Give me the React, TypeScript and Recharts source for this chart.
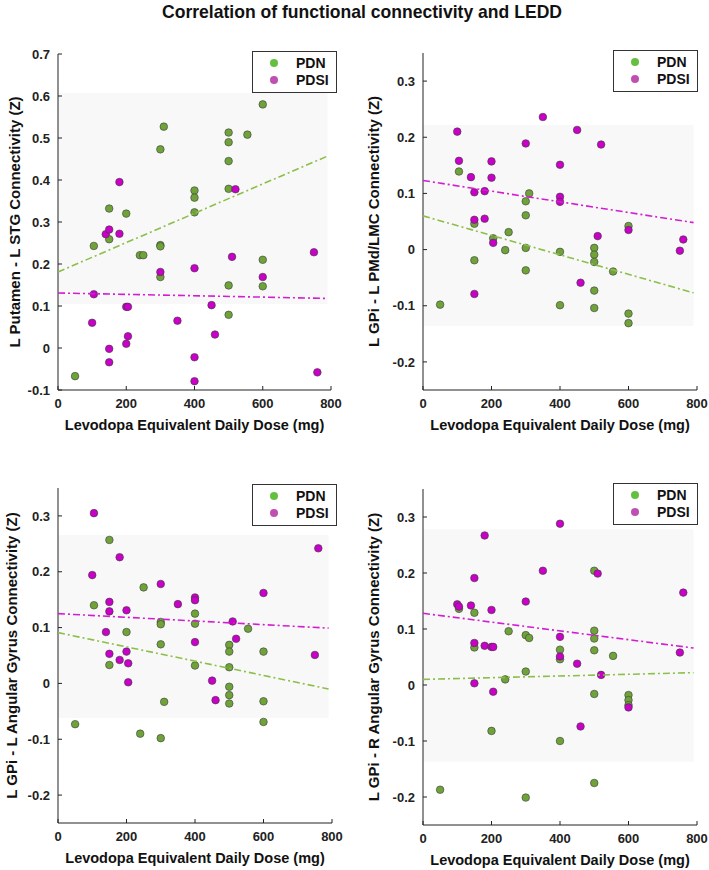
import React from "react";
import { ScatterChart, Scatter, XAxis, YAxis, ReferenceArea, Legend, Label } from "recharts";

type Pt = [number, number];

const FONT = '"Liberation Sans", Arial, sans-serif';
const GREEN = "#6fa33a";
const MAGENTA = "#c800c8";
const GREEN_FIT = "#8cbf4a";
const MAGENTA_FIT = "#d21ed2";

const doseTicks = [0, 200, 400, 600, 800];
const putamenTicks = [-0.1, 0, 0.1, 0.2, 0.3, 0.4, 0.5, 0.6, 0.7];
const gpiTicks = [-0.2, -0.1, 0, 0.1, 0.2, 0.3];

// L Putamen - L STG
const putamenPdn: Pt[] = [
  [600, 0.58], [310, 0.527], [300, 0.473], [500, 0.513], [500, 0.49], [555, 0.508],
  [500, 0.445], [500, 0.379], [400, 0.375], [400, 0.358], [400, 0.323], [150, 0.332],
  [200, 0.32], [105, 0.243], [150, 0.259], [240, 0.221], [250, 0.221], [300, 0.245],
  [300, 0.242], [300, 0.169], [600, 0.21], [500, 0.149], [600, 0.147], [500, 0.079],
  [50, -0.067],
];
const putamenPdsi: Pt[] = [
  [180, 0.395], [520, 0.378], [140, 0.271], [150, 0.282], [180, 0.272], [300, 0.181],
  [400, 0.19], [510, 0.217], [750, 0.228], [600, 0.169], [105, 0.128], [200, 0.098],
  [205, 0.098], [100, 0.06], [350, 0.065], [450, 0.102], [460, 0.032], [205, 0.028],
  [200, 0.01], [150, -0.002], [150, -0.034], [400, -0.022], [400, -0.079], [760, -0.058],
];
const putamenPdnFit: Pt[] = [[0, 0.181], [790, 0.457]];
const putamenPdsiFit: Pt[] = [[0, 0.131], [790, 0.118]];

// L GPi - L PMd/LMC
const pmdPdn: Pt[] = [
  [105, 0.139], [310, 0.1], [300, 0.086], [300, 0.061], [150, 0.046], [205, 0.02],
  [250, 0.031], [240, -0.001], [300, 0.003], [300, -0.037], [150, -0.019], [400, -0.004],
  [500, 0.003], [500, -0.009], [500, -0.022], [500, -0.073], [500, -0.104], [555, -0.039],
  [600, 0.042], [600, -0.114], [600, -0.131], [400, -0.099], [50, -0.098],
];
const pmdPdsi: Pt[] = [
  [350, 0.236], [100, 0.21], [450, 0.213], [300, 0.189], [520, 0.187], [105, 0.158],
  [200, 0.157], [400, 0.151], [140, 0.129], [200, 0.128], [150, 0.102], [180, 0.104],
  [400, 0.094], [400, 0.085], [150, 0.053], [180, 0.055], [205, 0.012], [510, 0.024],
  [600, 0.035], [750, -0.002], [760, 0.018], [460, -0.059], [150, -0.079],
];
const pmdPdnFit: Pt[] = [[0, 0.06], [790, -0.077]];
const pmdPdsiFit: Pt[] = [[0, 0.123], [790, 0.048]];

// L GPi - L Angular Gyrus
const lagPdn: Pt[] = [
  [150, 0.257], [250, 0.172], [105, 0.14], [400, 0.125], [300, 0.11], [300, 0.106],
  [400, 0.107], [555, 0.098], [200, 0.092], [150, 0.033], [300, 0.07], [400, 0.032],
  [310, -0.033], [500, 0.069], [500, 0.057], [500, 0.029], [500, -0.006], [500, -0.021],
  [500, -0.036], [600, 0.057], [600, -0.032], [600, -0.069], [50, -0.073], [240, -0.09],
  [300, -0.098],
];
const lagPdsi: Pt[] = [
  [105, 0.305], [180, 0.226], [100, 0.194], [300, 0.178], [150, 0.146], [150, 0.129],
  [200, 0.131], [350, 0.142], [400, 0.154], [400, 0.149], [600, 0.162], [760, 0.242],
  [510, 0.111], [140, 0.092], [150, 0.053], [180, 0.042], [200, 0.057], [205, 0.036],
  [205, 0.002], [400, 0.074], [520, 0.08], [450, 0.005], [460, -0.03], [750, 0.051],
];
const lagPdnFit: Pt[] = [[0, 0.091], [790, -0.01]];
const lagPdsiFit: Pt[] = [[0, 0.125], [790, 0.099]];

// L GPi - R Angular Gyrus
const ragPdn: Pt[] = [
  [500, 0.204], [105, 0.136], [150, 0.129], [250, 0.096], [500, 0.097], [150, 0.067],
  [300, 0.089], [310, 0.084], [400, 0.063], [400, 0.046], [500, 0.083], [500, 0.062],
  [555, 0.052], [300, 0.024], [240, 0.01], [500, -0.016], [600, -0.018], [600, -0.027],
  [600, -0.036], [200, -0.082], [400, -0.1], [500, -0.175], [50, -0.187], [300, -0.201],
];
const ragPdsi: Pt[] = [
  [400, 0.288], [180, 0.267], [350, 0.204], [510, 0.199], [150, 0.191], [760, 0.165],
  [300, 0.149], [100, 0.144], [105, 0.14], [140, 0.142], [200, 0.134], [150, 0.075],
  [180, 0.07], [200, 0.068], [205, 0.068], [400, 0.086], [400, 0.051], [450, 0.038],
  [520, 0.018], [150, 0.003], [205, -0.012], [460, -0.074], [600, -0.04], [750, 0.058],
];
const ragPdnFit: Pt[] = [[0, 0.01], [790, 0.022]];
const ragPdsiFit: Pt[] = [[0, 0.128], [790, 0.066]];

const toRows = (pts: Pt[]) => pts.map(([dose, z]) => ({ dose, z }));

const dot = (fill: string) => (p: any) => (
  <circle cx={p.cx} cy={p.cy} r={3.8} fill={fill} stroke="#3a3a3a" strokeWidth={0.6} />
);

const legendColors: Record<string, string> = { PDN: "#66c040", PDSI: "#c050b0" };

const renderLegend = (props: any) => {
  const items = (props.payload || []).filter((e: any) => e.type !== "none");
  return (
    <div style={{ width: 85, height: 42, boxSizing: "border-box", border: "1.3px solid #333", background: "#fff" }}>
      {items.map((e: any) => (
        <div key={e.value} style={{ height: 17.5, display: "flex", alignItems: "center", marginTop: e.value === "PDN" ? 2 : 0 }}>
          <span style={{ width: 8, height: 8, borderRadius: 4, background: legendColors[e.value], marginLeft: 17, marginRight: 18 }} />
          <span style={{ fontFamily: FONT, fontWeight: 700, fontSize: 14, color: "#111" }}>{e.value}</span>
        </div>
      ))}
    </div>
  );
};

type PanelProps = {
  left: number;
  top: number;
  width: number;
  height: number;
  marginTop: number;
  marginRight: number;
  marginBottom: number;
  yAxisWidth: number;
  yLabelX: number;
  yLabel: string;
  yDomain: [number, number];
  yTicks: number[];
  shade: [number, number];
  pdn: Pt[];
  pdsi: Pt[];
  pdnFit: Pt[];
  pdsiFit: Pt[];
  legendLeft: number;
  legendTop: number;
};

function Panel(p: PanelProps) {
  const tickStyle = { fontSize: 13, fontWeight: 700, fill: "#222", fontFamily: FONT };
  return (
    <div style={{ position: "absolute", left: p.left, top: p.top }}>
      <ScatterChart width={p.width} height={p.height} margin={{ top: p.marginTop, right: p.marginRight, bottom: p.marginBottom, left: 0 }}>
        <ReferenceArea x1={0} x2={790} y1={p.shade[0]} y2={p.shade[1]} fill="#f8f8f8" fillOpacity={1} stroke="none" />
        <XAxis
          dataKey="dose"
          type="number"
          domain={[0, 800]}
          ticks={doseTicks}
          height={40}
          tickSize={-4}
          tickMargin={13}
          tick={tickStyle}
          axisLine={{ stroke: "#222" }}
          tickLine={{ stroke: "#222" }}
        >
          <Label
            content={(lp: any) => {
              const vb = lp.viewBox;
              return (
                <text x={vb.x + vb.width / 2} y={vb.y + 35} textAnchor="middle" dominantBaseline="central" fontFamily={FONT} fontWeight={700} fontSize={14.5} fill="#111">
                  Levodopa Equivalent Daily Dose (mg)
                </text>
              );
            }}
          />
        </XAxis>
        <YAxis
          dataKey="z"
          type="number"
          domain={p.yDomain}
          ticks={p.yTicks}
          width={p.yAxisWidth}
          tickSize={-4}
          tickMargin={12}
          tick={tickStyle}
          tickFormatter={(v: number) => String(v)}
          axisLine={{ stroke: "#222" }}
          tickLine={{ stroke: "#222" }}
        >
          <Label
            content={(lp: any) => {
              const vb = lp.viewBox;
              const x = vb.x + p.yLabelX;
              const y = vb.y + vb.height / 2;
              return (
                <text x={x} y={y} transform={`rotate(-90, ${x}, ${y})`} textAnchor="middle" dominantBaseline="central" fontFamily={FONT} fontWeight={700} fontSize={15} fill="#111">
                  {p.yLabel}
                </text>
              );
            }}
          />
        </YAxis>
        <Legend
          layout="vertical"
          align="center"
          verticalAlign="middle"
          content={renderLegend}
          wrapperStyle={{ position: "absolute", left: p.legendLeft, top: p.legendTop, width: 85, height: 42 }}
        />
        <Scatter name="PDN" data={toRows(p.pdn)} fill={GREEN} shape={dot(GREEN)} isAnimationActive={false} />
        <Scatter name="PDSI" data={toRows(p.pdsi)} fill={MAGENTA} shape={dot(MAGENTA)} isAnimationActive={false} />
        <Scatter
          data={toRows(p.pdsiFit)}
          legendType="none"
          line={{ stroke: MAGENTA_FIT, strokeWidth: 1.6, strokeDasharray: "7 3 2 3" }}
          shape={() => <g />}
          isAnimationActive={false}
        />
        <Scatter
          data={toRows(p.pdnFit)}
          legendType="none"
          line={{ stroke: GREEN_FIT, strokeWidth: 1.6, strokeDasharray: "7 3 2 3" }}
          shape={() => <g />}
          isAnimationActive={false}
        />
      </ScatterChart>
    </div>
  );
}

export default function App() {
  return (
    <div style={{ position: "absolute", left: 0, top: 0, width: 709, height: 870, background: "#fff", fontFamily: FONT }}>
      <svg style={{ position: "absolute", left: 0, top: 0 }} width={709} height={30}>
        <text x={362} y={11} textAnchor="middle" dominantBaseline="central" fontFamily={FONT} fontSize={19} fontWeight={700} fill="#111" textLength={400} lengthAdjust="spacingAndGlyphs">
          Correlation of functional connectivity and LEDD
        </text>
      </svg>
      <Panel
        left={0} top={40} width={354} height={405} marginTop={14} marginRight={23} marginBottom={15} yAxisWidth={58} yLabelX={14}
        yLabel="L Putamen - L STG Connectivity (Z)" yDomain={[-0.1, 0.7]} yTicks={putamenTicks} shade={[0.105, 0.607]}
        pdn={putamenPdn} pdsi={putamenPdsi} pdnFit={putamenPdnFit} pdsiFit={putamenPdsiFit} legendLeft={252} legendTop={11}
      />
      <Panel
        left={354} top={40} width={355} height={405} marginTop={13} marginRight={12} marginBottom={15} yAxisWidth={69} yLabelX={19}
        yLabel="L GPi - L PMd/LMC Connectivity (Z)" yDomain={[-0.25, 0.35]} yTicks={gpiTicks} shade={[-0.136, 0.222]}
        pdn={pmdPdn} pdsi={pmdPdsi} pdnFit={pmdPdnFit} pdsiFit={pmdPdsiFit} legendLeft={259} legendTop={10}
      />
      <Panel
        left={0} top={450} width={354} height={420} marginTop={38} marginRight={22} marginBottom={7} yAxisWidth={58} yLabelX={11}
        yLabel="L GPi - L Angular Gyrus Connectivity (Z)" yDomain={[-0.25, 0.35]} yTicks={gpiTicks} shade={[-0.062, 0.266]}
        pdn={lagPdn} pdsi={lagPdsi} pdnFit={lagPdnFit} pdsiFit={lagPdsiFit} legendLeft={252} legendTop={34}
      />
      <Panel
        left={354} top={450} width={355} height={420} marginTop={39} marginRight={12} marginBottom={5} yAxisWidth={69} yLabelX={19}
        yLabel="L GPi - R Angular Gyrus Connectivity (Z)" yDomain={[-0.25, 0.35]} yTicks={gpiTicks} shade={[-0.137, 0.278]}
        pdn={ragPdn} pdsi={ragPdsi} pdnFit={ragPdnFit} pdsiFit={ragPdsiFit} legendLeft={259} legendTop={33}
      />
    </div>
  );
}
